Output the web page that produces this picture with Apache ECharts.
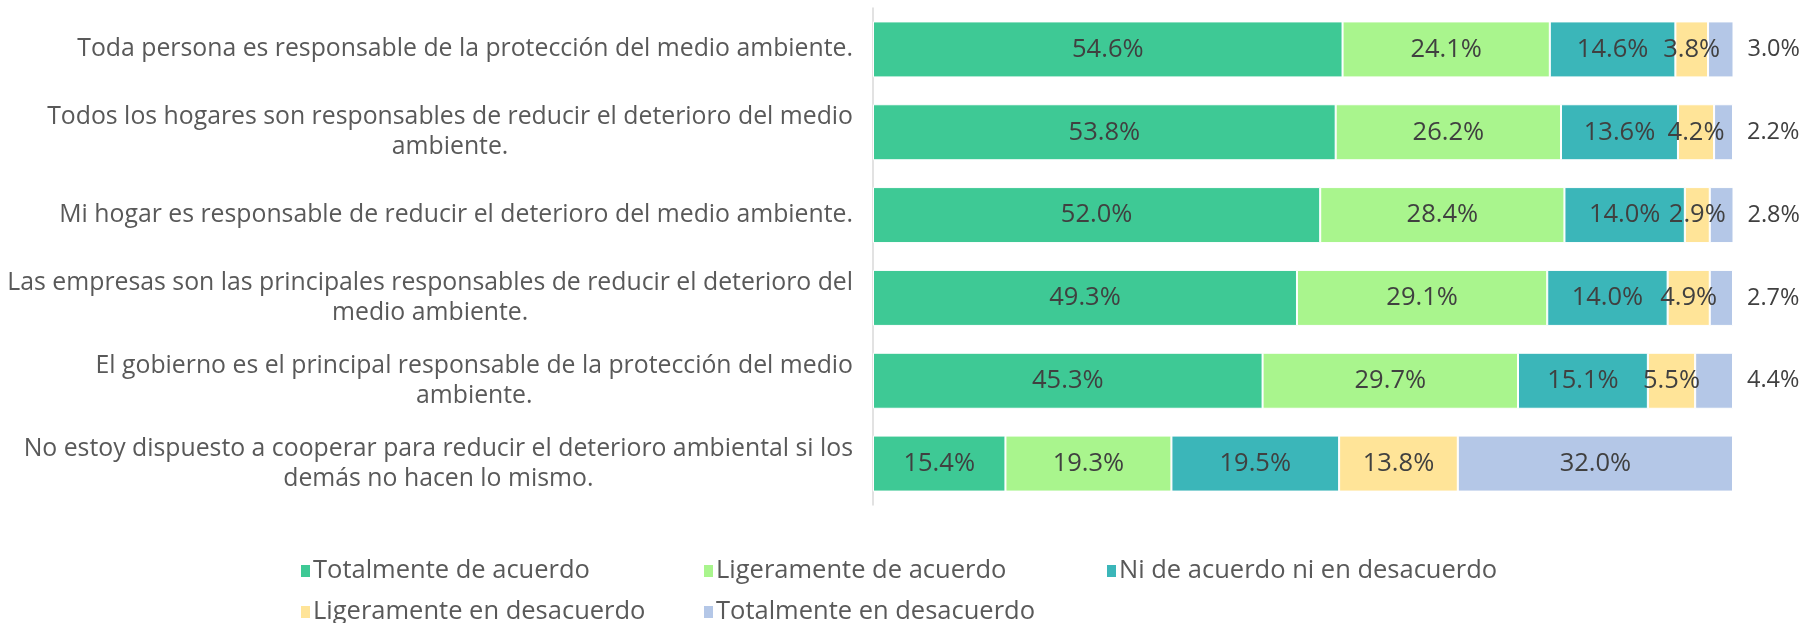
<!DOCTYPE html>
<html>
<head>
<meta charset="utf-8">
<script src="https://cdn.jsdelivr.net/npm/echarts@6/dist/echarts.min.js"></script>
<style>
  html, body { margin: 0; padding: 0; background: #fff; }
  #chart { width: 1802px; height: 623px; }
</style>
</head>
<body>
<div id="chart"></div>
<script>
// categorias (de arriba hacia abajo)
const categories = [
  'Toda persona es responsable de la protección del medio ambiente.',
  'Todos los hogares son responsables de reducir el deterioro del medio\nambiente.',
  'Mi hogar es responsable de reducir el deterioro del medio ambiente.',
  'Las empresas son las principales responsables de reducir el deterioro del\nmedio ambiente.',
  'El gobierno es el principal responsable de la protección del medio\nambiente.',
  'No estoy dispuesto a cooperar para reducir el deterioro ambiental si los\ndemás no hacen lo mismo.'
]
const seriesNames = [
  'Totalmente de acuerdo',
  'Ligeramente de acuerdo',
  'Ni de acuerdo ni en desacuerdo',
  'Ligeramente en desacuerdo',
  'Totalmente en desacuerdo'
]
const totalAcuerdo = [54.6, 53.8, 52.0, 49.3, 45.3, 15.4]
const ligAcuerdo = [24.1, 26.2, 28.4, 29.1, 29.7, 19.3]
const niNi = [14.6, 13.6, 14.0, 14.0, 15.1, 19.5]
const ligDesacuerdo = [3.8, 4.2, 2.9, 4.9, 5.5, 13.8]
const totalDesacuerdo = [3.0, 2.2, 2.8, 2.7, 4.4, 32.0]

const colors = ['#3ec995', '#a9f58d', '#3bb6b9', '#ffe498', '#b4c7e7']
const font = '"Open Sans", sans-serif'

const chart = echarts.init(document.getElementById('chart'))

const baseLabel = {
  show: true,
  position: 'inside',
  color: '#404040',
  fontFamily: font,
  fontSize: 25.5,
  formatter: (p) => p.value.toFixed(1) + '%'
}

const allData = [totalAcuerdo, ligAcuerdo, niNi, ligDesacuerdo, totalDesacuerdo]

const series = allData.map((arr, i) => {
  let data = arr
  // el ultimo tramo: etiquetas pequeñas van fuera, a la derecha
  if (i === allData.length - 1) {
    data = arr.map((v) => v < 10
      ? { value: v, label: { position: 'right', distance: 14, fontSize: 23.5 } }
      : v)
  }
  return {
    name: seriesNames[i],
    type: 'bar',
    stack: 'total',
    barWidth: 56,
    itemStyle: { color: colors[i], borderColor: '#fff', borderWidth: 1 },
    label: baseLabel,
    data: data
  }
})

const option = {
  animation: false,
  grid: { left: 873, right: 69, top: 8, bottom: 118, outerBoundsMode: 'none', containLabel: false },
  xAxis: {
    type: 'value',
    min: 0,
    max: 100,
    show: false
  },
  yAxis: {
    type: 'category',
    inverse: true,
    data: categories,
    axisLine: { show: true, lineStyle: { color: '#d9d9d9', width: 1.5 } },
    axisTick: { show: false },
    axisLabel: {
      margin: 20,
      align: 'right',
      formatter: (v) => v.split('\n').map((s) => '{c|' + s + '}').join('\n'),
      rich: {
        c: {
          align: 'center',
          color: '#595959',
          fontFamily: font,
          fontSize: 24.8,
          lineHeight: 30
        }
      }
    }
  },
  legend: {
    data: seriesNames,
    left: 299,
    top: 555,
    width: 1240,
    padding: 0,
    itemWidth: 11,
    itemHeight: 14,
    itemGap: 9,
    icon: 'rect',
    textStyle: {
      color: '#595959',
      fontFamily: font,
      fontSize: 25.5,
      width: 380,
      lineHeight: 32,
      padding: [0, 0, 0, -3]
    }
  },
  series: series
}

chart.setOption(option)
</script>
</body>
</html>
